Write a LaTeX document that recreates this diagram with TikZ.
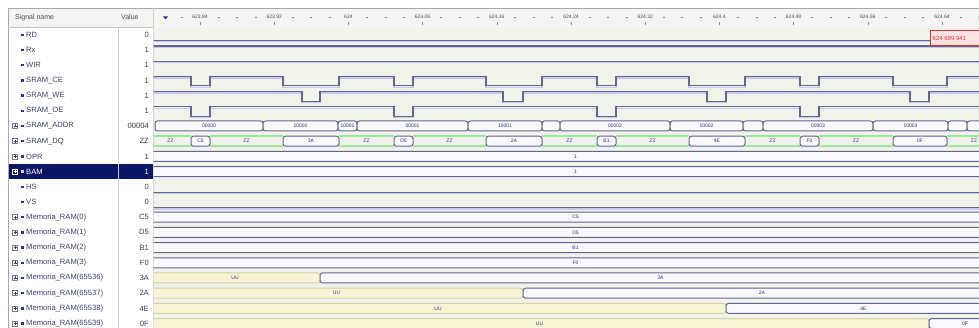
\documentclass[tikz,border=0pt]{standalone}
\usepackage{fontspec}
\setmainfont{Liberation Sans}
\usetikzlibrary{calc}

\definecolor{wavebg}{HTML}{F2F2EC}
\definecolor{wave}{HTML}{62668A}
\definecolor{waveshadow}{HTML}{C6C6EE}
\definecolor{busfill}{HTML}{F8F8FD}
\definecolor{ufill}{HTML}{F6F3D6}
\definecolor{uline}{HTML}{D6D2A0}
\definecolor{zline}{HTML}{9DE69D}
\definecolor{labtext}{HTML}{2E3278}
\definecolor{sigtext}{HTML}{3C4068}
\definecolor{selbg}{HTML}{0C1565}
\definecolor{hdrbg}{HTML}{F4F4F4}
\definecolor{framec}{HTML}{A8A8A8}
\definecolor{cursred}{HTML}{E03030}
\definecolor{cursbg}{HTML}{FCE4E4}

\tikzset{
  sigline/.style={draw=wave, line width=1.1pt},
  shadowline/.style={draw=waveshadow, line width=1.3pt, yshift=-1.5pt},
  bus/.style={draw=wave, fill=busfill, line width=1pt, rounded corners=2.5pt},
  ubus/.style={draw=uline, fill=ufill, line width=1pt, rounded corners=2.5pt},
  zzline/.style={draw=zline, line width=1.6pt},
  buslabel/.style={font=\fontsize{5}{5}\selectfont, text=labtext, inner sep=0pt},
  sname/.style={anchor=west, font=\fontsize{7.6}{8}\selectfont, inner sep=0pt},
  sval/.style={anchor=east, font=\fontsize{7.6}{8}\selectfont, inner sep=0pt},
  ruler/.style={font=\fontsize{5}{5}\selectfont, text=black!70, inner sep=0pt},
}

\newcommand{\rowc}[1]{34.8+15.2*#1}
% bit signal with low pulses
\newcommand{\pulsewave}[2]{%
  \pgfmathsetmacro\hi{\rowc{#1}-4}%
  \pgfmathsetmacro\lo{\rowc{#1}+5.5}%
  \draw[shadowline] (150,\hi) \foreach \a/\b in {#2}{ -- (\a,\hi) -- (\a,\lo) -- (\b,\lo) -- (\b,\hi)} -- (985,\hi);
  \draw[sigline] (150,\hi) \foreach \a/\b in {#2}{ -- (\a,\hi) -- (\a,\lo) -- (\b,\lo) -- (\b,\hi)} -- (985,\hi);
}
% constant bit signal
\newcommand{\flatwave}[3]{%
  \pgfmathsetmacro\yy{\rowc{#1}+#2}%
  \draw[shadowline] (150,\yy) -- (#3,\yy);
  \draw[sigline] (150,\yy) -- (#3,\yy);
}
% bus segment
\newcommand{\busseg}[5][bus]{%
  \pgfmathsetmacro\yt{\rowc{#2}-5}\pgfmathsetmacro\yb{\rowc{#2}+5}%
  \draw[#1] (#3,\yt) rectangle (#4,\yb);
  \node[buslabel] (lab#2-#3) at ({(#3+#4)/2},{\rowc{#2}}) {#5};
}
% high impedance segment
\newcommand{\zseg}[3]{%
  \pgfmathsetmacro\yt{\rowc{#1}-5}\pgfmathsetmacro\yb{\rowc{#1}+5}%
  \draw[zzline] (#2,\yt) -- (#3,\yt);
  \draw[zzline] (#2,\yb) -- (#3,\yb);
  \node[buslabel] (zz#1-#2) at ({(#2+#3)/2},{\rowc{#1}}) {ZZ};
}

\begin{document}
\begin{tikzpicture}[x=1pt,y=-1pt]
  \useasboundingbox (0,0) rectangle (979,328);
  \fill[white] (0,0) rectangle (979,328);
  \fill[hdrbg] (8,8) rectangle (979,27); %header
  \draw[framec] (8,8) -- (979,8);
  \draw[framec] (8,8) -- (8,328);
  \draw[framec!70] (8,27) -- (979,27);
  \node[sname, font=\fontsize{7}{8}\selectfont, text=black!70] (hname) at (15,17.5) {Signal name};
  \node[sname, font=\fontsize{7}{8}\selectfont, text=black!70] (hval) at (121,17.5) {Value};

  % time ruler
  \fill[labtext] (163,16.5) -- (168,16.5) -- (165.5,19.5) -- cycle;
  \draw[black!45] (180.5,17.5) -- (182.5,17.5);
  \foreach \t [count=\k from 0] in {623.84,623.92,624,624.08,624.16,624.24,624.32,624.4,624.48,624.56,624.64}{
    \node[ruler] (t\k) at ({200+74.2*\k},16.5) {\t};
    \draw[black!45] ({200+74.2*\k},22) -- ++(0,3);
    \foreach \m in {1,2,3}
      \draw[black!45] ({200+74.2*\k+18.55*\m-1},17.5) -- ++(2,0);
  }

  % signal list
  \fill[selbg] (9,{\rowc{9}-7.5}) rectangle (152.5,{\rowc{9}+7.5}); %selected row
  \draw[framec!60] (118,27) -- (118,328);
  \draw[framec!60] (153,8) -- (153,328);
  \foreach \i/\nm/\v/\isbus in {0/RD/0/0, 1/Rx/1/0, 2/WIR/1/0, 3/SRAM\_CE/1/0, 4/SRAM\_WE/1/0,
      5/SRAM\_OE/1/0, 6/SRAM\_ADDR/00004/1, 7/SRAM\_DQ/ZZ/1, 8/OPR/1/1, 9/BAM/1/1, 10/HS/0/0,
      11/VS/0/0, 12/Memoria\_RAM(0)/C5/1, 13/Memoria\_RAM(1)/D5/1, 14/Memoria\_RAM(2)/B1/1,
      15/Memoria\_RAM(3)/F0/1, 16/Memoria\_RAM(65536)/3A/1, 17/Memoria\_RAM(65537)/2A/1,
      18/Memoria\_RAM(65538)/4E/1, 19/Memoria\_RAM(65539)/0F/1}{
    \ifnum\i=9 \def\tc{white}\def\vc{white}\else\def\tc{sigtext}\def\vc{black!75}\fi
    \pgfmathsetmacro\yc{\rowc{\i}}
    \ifnum\isbus=1
      \draw[\tc!70, line width=0.5pt] (12.5,\yc-2.5) rectangle (17.5,\yc+2.5);
      \draw[\tc, line width=0.5pt] (13.5,\yc) -- (16.5,\yc) (15,\yc-1.5) -- (15,\yc+1.5);
    \fi
    \fill[\tc!80!blue] (20.5,\yc-1.2) rectangle (23.5,\yc+1.2); %signal icon
    \node[sname, text=\tc] (n\i) at (26,\yc) {\nm};
    \node[sval, text=\vc] (v\i) at (149,\yc) {\v};
  }

  % waveforms
  \begin{scope}
    \clip (153.5,27.5) rectangle (979,328);
    \fill[wavebg] (153,27) rectangle (979,328);
    \flatwave{0}{5.5}{933} %RD
    \flatwave{1}{-4}{985} %Rx
    \flatwave{2}{-4}{985} %WIR
    \pulsewave{3}{191/210,283/339,394/413,486/542,597/616,689/745,800/819,893/947} %SRAM_CE
    \pulsewave{4}{302/320,503/523,707/726,910/929} %SRAM_WE
    \pulsewave{5}{191/210,394/413,597/616,800/819} %SRAM_OE
    \flatwave{10}{5.5}{985} %HS
    \flatwave{11}{5.5}{985} %VS

    % SRAM_ADDR
    \busseg{6}{155}{263}{00000}
    \busseg{6}{263}{338}{10000}
    \busseg{6}{338}{357}{10001}
    \busseg{6}{357}{468}{00001}
    \busseg{6}{468}{542}{10001}
    \busseg{6}{542}{560}{}
    \busseg{6}{560}{670}{00002}
    \busseg{6}{670}{743}{10002}
    \busseg{6}{743}{763}{}
    \busseg{6}{763}{873}{00003}
    \busseg{6}{873}{948}{10003}
    \busseg{6}{948}{967}{}
    \busseg{6}{967}{1010}{}

    % SRAM_DQ
    \zseg{7}{150}{191}
    \busseg{7}{191}{210}{C5}
    \zseg{7}{210}{283}
    \busseg{7}{283}{339}{3A}
    \zseg{7}{339}{394}
    \busseg{7}{394}{413}{D5}
    \zseg{7}{413}{486}
    \busseg{7}{486}{542}{2A}
    \zseg{7}{542}{597}
    \busseg{7}{597}{616}{B1}
    \zseg{7}{616}{689}
    \busseg{7}{689}{745}{4E}
    \zseg{7}{745}{800}
    \busseg{7}{800}{819}{F0}
    \zseg{7}{819}{893}
    \busseg{7}{893}{947}{0F}
    \zseg{7}{947}{1001}

    \busseg{8}{150}{1001}{1} %OPR
    \busseg{9}{150}{1001}{1} %BAM
    \busseg{12}{150}{1001}{C5}
    \busseg{13}{150}{1001}{D5}
    \busseg{14}{150}{1001}{B1}
    \busseg{15}{150}{1001}{F0}
    \busseg[ubus]{16}{150}{320}{UU}
    \busseg{16}{320}{1001}{3A}
    \busseg[ubus]{17}{150}{523}{UU}
    \busseg{17}{523}{1001}{2A}
    \busseg[ubus]{18}{150}{726}{UU}
    \busseg{18}{726}{1001}{4E}
    \busseg[ubus]{19}{150}{929}{UU}
    \busseg{19}{929}{1001}{0F}

    % time cursor box
    \draw[cursred, fill=cursbg, line width=0.6pt] (930,30.5) rectangle (990,45.5);
    \node[anchor=west, text=cursred, font=\fontsize{6}{6}\selectfont, inner sep=0pt] (curs) at (932.5,38) {624 699 941};
  \end{scope}
\end{tikzpicture}
\end{document}
